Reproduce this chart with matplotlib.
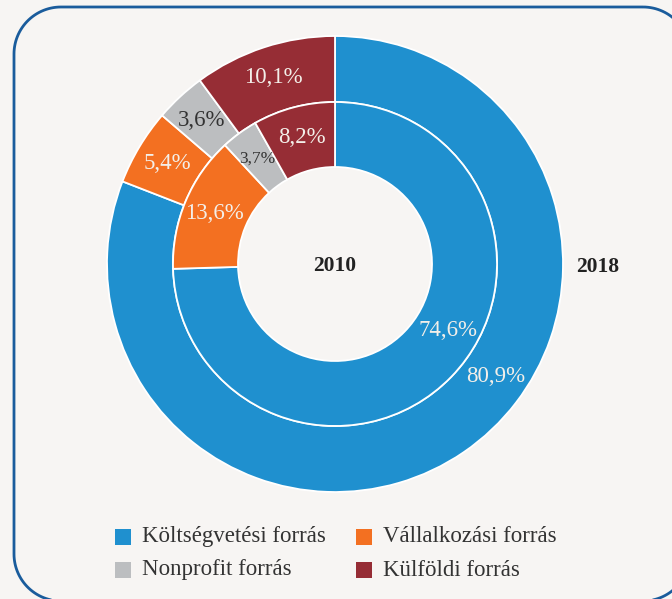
import matplotlib
matplotlib.use("Agg")
import matplotlib.pyplot as plt
from matplotlib.patches import Rectangle, Polygon
import numpy as np

categories = ["Költségvetési forrás", "Vállalkozási forrás", "Nonprofit forrás", "Külföldi forrás"]
values_2018 = [80.9, 5.4, 3.6, 10.1]
values_2010 = [74.6, 13.6, 3.7, 8.2]
labels_2018 = ["80,9%", "5,4%", "3,6%", "10,1%"]
labels_2010 = ["74,6%", "13,6%", "3,7%", "8,2%"]
colors = ["#1f90cf", "#f37021", "#bcbec0", "#962d35"]
label_colors = ["#f3efe9", "#f3efe9", "#333333", "#f3efe9"]

BG = "#f7f5f3"
SERIF = ["Liberation Serif", "DejaVu Serif"]

W, H = 672, 599
fig = plt.figure(figsize=(W / 100, H / 100), dpi=100, facecolor=BG)

bg = fig.add_axes([0, 0, 1, 1])
bg.set_xlim(0, W)
bg.set_ylim(H, 0)
bg.axis("off")

# rounded frame outline (pixel coords, y down)
fx0, fy0, fx1, fy1, fr = 14, 7, 690, 601, 47
t = np.linspace(0, np.pi / 2, 30)
xs, ys = [], []
xs += list(fx1 - fr + fr * np.sin(t)); ys += list(fy0 + fr - fr * np.cos(t))
xs += list(fx1 - fr + fr * np.cos(t)); ys += list(fy1 - fr + fr * np.sin(t))
xs += list(fx0 + fr - fr * np.sin(t)); ys += list(fy1 - fr + fr * np.cos(t))
xs += list(fx0 + fr - fr * np.cos(t)); ys += list(fy0 + fr - fr * np.sin(t))
frame = Polygon(np.column_stack([xs, ys]), closed=True, fill=False,
                edgecolor="#1a5c9c", linewidth=2.0, joinstyle="round", clip_on=False)
bg.add_patch(frame)

# pie axes: center (335, 264), outer radius 228 px
cx, cy, R = 335, 264, 228
ax = fig.add_axes([(cx - R) / W, 1 - (cy + R) / H, 2 * R / W, 2 * R / H])

r_out = 1.0
r_mid = 162 / 228
r_in = 97 / 228

ax.pie(values_2018, radius=r_out, colors=colors, startangle=90, counterclock=False,
       wedgeprops=dict(width=r_out - r_mid, edgecolor="white", linewidth=1.3))
ax.pie(values_2010, radius=r_mid, colors=colors, startangle=90, counterclock=False,
       wedgeprops=dict(width=r_mid - r_in, edgecolor="white", linewidth=1.3))
ax.set_xlim(-1, 1)
ax.set_ylim(-1, 1)
ax.set_aspect("equal")
ax.axis("off")


def mid_angles(vals):
    tot = sum(vals)
    ang = []
    start = 90.0
    for v in vals:
        span = v / tot * 360
        ang.append(start - span / 2)
        start -= span
    return ang


ang18 = mid_angles(values_2018)
ang10 = mid_angles(values_2010)
ang18[0] = -35.0
ang10[0] = -30.7

r_lab18 = 196 / 228
r_lab10 = 131 / 228
for i in range(4):
    a = np.deg2rad(ang18[i])
    ax.text(r_lab18 * np.cos(a), r_lab18 * np.sin(a), labels_2018[i],
            ha="center", va="center", fontsize=16.5, color=label_colors[i], family=SERIF)
    a = np.deg2rad(ang10[i])
    fs = 12.5 if i == 2 else 16.5
    ax.text(r_lab10 * np.cos(a), r_lab10 * np.sin(a), labels_2010[i],
            ha="center", va="center", fontsize=fs, color=label_colors[i], family=SERIF)

ax.text(0, -0.01, "2010", ha="center", va="center", fontsize=15.5,
        fontweight="bold", color="#222222", family=SERIF)
bg.text(598, 267, "2018", ha="center", va="center", fontsize=15.5,
        fontweight="bold", color="#222222", family=SERIF)

# legend
leg_pos = [(115, 536.5), (356, 536.5), (115, 570), (356, 570)]
for (lx, ly), i in zip(leg_pos, range(4)):
    bg.add_patch(Rectangle((lx, ly - 8), 16, 16, facecolor=colors[i], edgecolor="none"))
    bg.text(lx + 27, ly, categories[i], ha="left", va="center", fontsize=16.5,
            color="#333333", family=SERIF)

fig.savefig("out.png", dpi=100, facecolor=BG)
